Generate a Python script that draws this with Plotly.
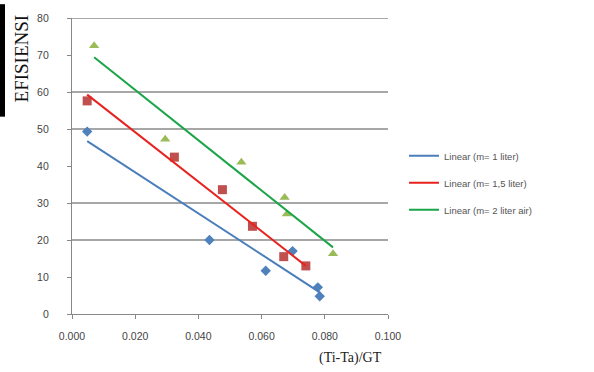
import numpy as np
import plotly.graph_objects as go

# Data
x_m1 = [0.0048, 0.0435, 0.0613, 0.0698, 0.0778, 0.0784]
y_m1 = [49.3, 20.0, 11.7, 17.0, 7.2, 4.8]
x_m15 = [0.0048, 0.0324, 0.0476, 0.0571, 0.0670, 0.0740]
y_m15 = [57.6, 42.4, 33.6, 23.7, 15.5, 13.0]
x_m2 = [0.0070, 0.0295, 0.0536, 0.0673, 0.0680, 0.0826]
y_m2 = [72.5, 47.2, 41.0, 31.5, 27.0, 16.3]

legend_names = ["Linear (m= 1 liter)", "Linear (m= 1,5 liter)", "Linear (m= 2 liter air)"]
x_ticks = [0.0, 0.02, 0.04, 0.06, 0.08, 0.10]
x_tick_text = ["0.000", "0.020", "0.040", "0.060", "0.080", "0.100"]
y_ticks = [0, 10, 20, 30, 40, 50, 60, 70, 80]
grid_y = [20, 30, 50, 60, 80]

series = [
    (x_m1, y_m1, "#4F81BD", "diamond", 8, "#4A7EBB"),
    (x_m15, y_m15, "#C0504D", "square", 9, "#E8221F"),
    (x_m2, y_m2, "#9BBB59", "triangle-up", 9, "#1BA548"),
]

L, T, W, H = 72, 14, 316, 300  # plot area in page pixels
def px(X):
    return (X - L) / W
def py(Y):
    return (T + H - Y) / H

fig = go.Figure()
for xs, ys, mc, sym, ms, lc in series:
    fig.add_trace(go.Scatter(x=xs, y=ys, mode="markers",
                             marker=dict(color=mc, symbol=sym, size=ms),
                             showlegend=False))
for i, (xs, ys, mc, sym, ms, lc) in enumerate(series):
    a, b = np.polyfit(xs, ys, 1)
    xl = np.array([min(xs), max(xs)])
    fig.add_trace(go.Scatter(x=xl, y=a * xl + b, mode="lines",
                             line=dict(color=lc, width=2),
                             name=legend_names[i], legendgroup=str(i)))

shapes = []
for gy in grid_y:
    shapes.append(dict(type="line", xref="paper", yref="y", x0=0, x1=1, y0=gy, y1=gy,
                       line=dict(color="#8a8a8a", width=1.3), layer="below"))
shapes.append(dict(type="rect", xref="paper", yref="paper", x0=px(0), x1=px(5),
                   y0=py(114), y1=py(0), fillcolor="black", line=dict(width=0)))

fig.update_layout(
    width=594, height=372,
    margin=dict(l=L, r=594 - L - W, t=T, b=372 - T - H),
    paper_bgcolor="white", plot_bgcolor="white",
    font=dict(family="Liberation Sans", size=10, color="#444"),
    showlegend=True,
    legend=dict(x=px(404), y=py(139), xanchor="left", yanchor="top",
                font=dict(size=9.5, color="#555"), itemwidth=30,
                traceorder="grouped", tracegroupgap=8, bgcolor="rgba(0,0,0,0)"),
    shapes=shapes,
    annotations=[
        dict(text="(Ti-Ta)/GT", xref="paper", yref="paper", x=px(350), y=py(359),
             xanchor="center", yanchor="middle",
             showarrow=False, font=dict(family="Liberation Serif", size=14, color="#222")),
        dict(text="EFISIENSI", xref="paper", yref="paper", x=px(21), y=py(55),
             xanchor="center", yanchor="middle",
             textangle=-90, showarrow=False,
             font=dict(family="Liberation Serif", size=19, color="#111")),
    ],
)
fig.update_xaxes(range=[0, 0.1], tickvals=x_ticks, ticktext=x_tick_text,
                 showgrid=False, zeroline=False, showline=True, linecolor="#888",
                 linewidth=1.3, ticks="outside", ticklen=4, tickcolor="#888",
                 ticklabelstandoff=8, tickfont=dict(size=10.5))
fig.update_yaxes(range=[0, 80], tickvals=y_ticks, showgrid=False, zeroline=False,
                 showline=True, linecolor="#888", linewidth=1.3, ticks="outside",
                 ticklen=4, tickcolor="#888", ticklabelstandoff=16, tickfont=dict(size=10.5))

fig.write_html("out.html", config={"displayModeBar": False},
               post_script="document.body.style.margin='0';")
